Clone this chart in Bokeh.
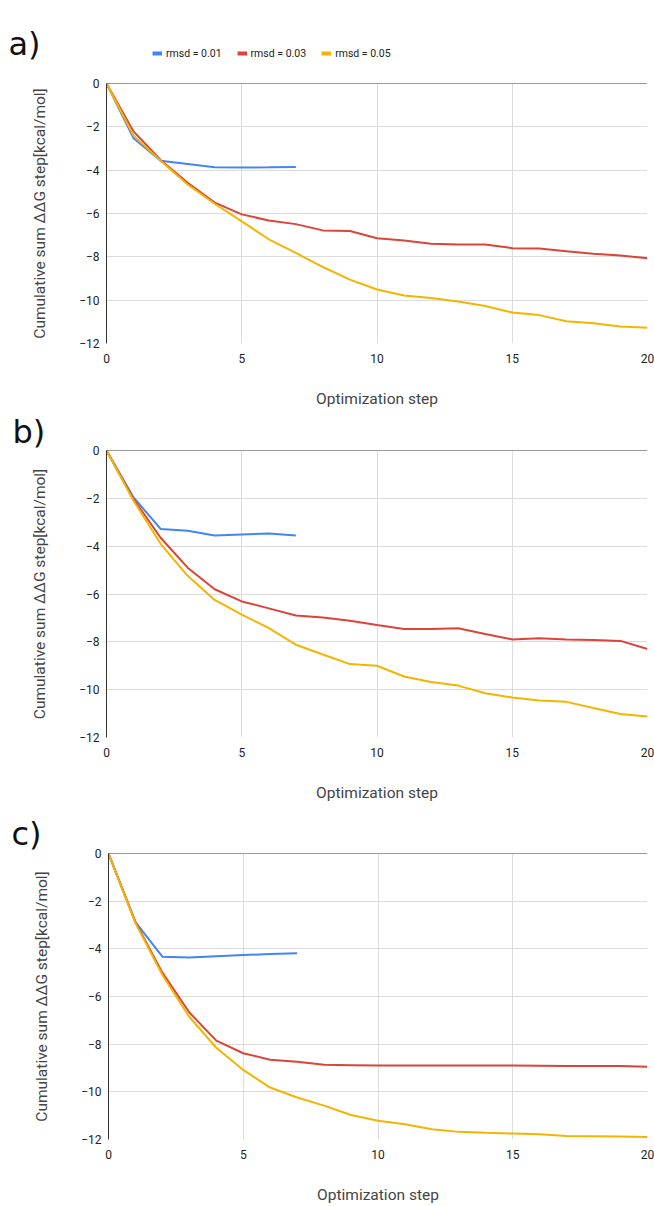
from bokeh.plotting import figure
from bokeh.layouts import column
from bokeh.models import FixedTicker, Span, Legend, LegendItem, Label
from bokeh.embed import file_html
from bokeh.resources import INLINE

# ---------------- data ----------------
steps_long = list(range(21))
steps_short = list(range(8))

series_names = ["rmsd = 0.01", "rmsd = 0.03", "rmsd = 0.05"]
series_colors = ["#4285F4", "#DB4437", "#F4B400"]

a_blue = [0, -2.53, -3.56, -3.71, -3.87, -3.88, -3.87, -3.85]
a_red = [0, -2.21, -3.53, -4.58, -5.50, -6.04, -6.32, -6.49, -6.78, -6.81, -7.14,
         -7.25, -7.40, -7.43, -7.43, -7.60, -7.62, -7.74, -7.86, -7.94, -8.06]
a_yellow = [0, -2.41, -3.56, -4.66, -5.55, -6.36, -7.19, -7.82, -8.47, -9.05, -9.51,
            -9.78, -9.90, -10.06, -10.27, -10.57, -10.69, -10.97, -11.06, -11.21, -11.27]

b_blue = [0, -1.96, -3.28, -3.36, -3.55, -3.51, -3.47, -3.55]
b_red = [0, -2.03, -3.65, -4.90, -5.80, -6.31, -6.60, -6.90, -6.98, -7.12, -7.30,
         -7.46, -7.46, -7.43, -7.67, -7.90, -7.85, -7.90, -7.92, -7.96, -8.30]
b_yellow = [0, -2.10, -3.90, -5.24, -6.25, -6.86, -7.43, -8.12, -8.53, -8.93, -9.00,
            -9.45, -9.68, -9.83, -10.15, -10.33, -10.45, -10.51, -10.77, -11.02, -11.12]

c_blue = [0, -2.88, -4.33, -4.36, -4.31, -4.26, -4.22, -4.19]
c_red = [0, -2.88, -5.00, -6.67, -7.85, -8.38, -8.65, -8.74, -8.86, -8.88, -8.90,
         -8.90, -8.89, -8.90, -8.90, -8.90, -8.91, -8.92, -8.92, -8.92, -8.95]
c_yellow = [0, -2.92, -5.10, -6.86, -8.15, -9.08, -9.82, -10.24, -10.58, -10.97, -11.21,
            -11.36, -11.57, -11.68, -11.72, -11.75, -11.78, -11.85, -11.86, -11.87, -11.89]

x_ticks = [0, 5, 10, 15, 20]
y_ticks = [0, -2, -4, -6, -8, -10, -12]
panel_labels = ["a)", "b)", "c)"]
x_title = "Optimization step"
y_title = "Cumulative sum \u0394\u0394G step[kcal/mol]"

FONT = "Roboto"
LETTER_FONT = "DejaVu Sans"


def no_align(p):
    if "frame_align" in p.properties():
        p.frame_align = False


def make_panel(label, blue, red, yellow, height, top, bottom, left, xlabel_standoff,
               title_offset, title_standoff):
    p = figure(width=654, height=height, x_range=(0, 20), y_range=(-12, 0),
               output_backend="svg", toolbar_location=None,
               min_border_top=top, min_border_bottom=bottom,
               min_border_left=left, min_border_right=7)
    no_align(p)
    p.outline_line_color = None
    p.background_fill_color = "white"

    if label:
        p.title.text = label
        p.title.text_font = LETTER_FONT
        p.title.text_font_size = "32px"
        p.title.text_font_style = "normal"
        p.title.text_color = "#111111"
        p.title.align = "left"
        p.title.offset = title_offset
        p.title.standoff = title_standoff

    for ax in (p.xaxis[0], p.yaxis[0]):
        ax.major_tick_line_color = None
        ax.minor_tick_line_color = None
        ax.major_tick_out = 0
        ax.major_tick_in = 0
        ax.major_label_text_font = FONT
        ax.major_label_text_font_size = "12px"
        ax.major_label_text_color = "#222222"
        ax.axis_label_text_font = FONT
        ax.axis_label_text_font_size = "15.5px"
        ax.axis_label_text_font_style = "normal"
        ax.axis_label_text_color = "#444444"

    p.xaxis.ticker = FixedTicker(ticks=x_ticks)
    p.yaxis.ticker = FixedTicker(ticks=y_ticks)
    p.xaxis.axis_line_color = None
    p.yaxis.axis_line_color = "#333333"
    p.yaxis.axis_line_width = 1
    p.xaxis.major_label_standoff = 10
    p.yaxis.major_label_standoff = 7
    p.xaxis.axis_label = x_title
    p.yaxis.axis_label = y_title
    p.xaxis.axis_label_standoff = xlabel_standoff
    p.yaxis.axis_label_standoff = 27

    p.xgrid.ticker = FixedTicker(ticks=x_ticks)
    p.ygrid.ticker = FixedTicker(ticks=y_ticks)
    p.grid.grid_line_color = "#dcdcdc"
    p.grid.grid_line_width = 1

    p.line(steps_short, blue, line_color=series_colors[0], line_width=2)
    p.line(steps_long, red, line_color=series_colors[1], line_width=2)
    p.line(steps_long, yellow, line_color=series_colors[2], line_width=2)

    p.add_layout(Span(location=0, dimension="width", line_color="#333333", line_width=1))
    return p


# header strip for panel a: panel letter + legend (series drawn outside its visible range,
# only their legend swatches show)
hdr = figure(width=654, height=70, x_range=(0, 1), y_range=(1, 2),
             output_backend="svg", toolbar_location=None,
             x_axis_location=None, y_axis_location=None,
             min_border_left=0, min_border_right=0,
             min_border_top=0, min_border_bottom=0)
no_align(hdr)
hdr.outline_line_color = None
hdr.grid.visible = False
swatches = [hdr.line(steps_short, a_blue, line_color=series_colors[0], line_width=4),
            hdr.line(steps_long, a_red, line_color=series_colors[1], line_width=4),
            hdr.line(steps_long, a_yellow, line_color=series_colors[2], line_width=4)]
hdr.add_layout(Label(x=8, y=27, x_units="screen", y_units="screen", text=panel_labels[0],
                     text_font=LETTER_FONT, text_font_size="32px", text_color="#111111",
                     text_baseline="alphabetic"))
legend = Legend(items=[LegendItem(label=n, renderers=[r]) for n, r in zip(series_names, swatches)],
                orientation="horizontal", location=(152, 10),
                padding=0, margin=0, spacing=15, label_standoff=4,
                glyph_width=10, glyph_height=14, label_height=14,
                label_text_font=FONT, label_text_font_size="10.5px",
                label_text_color="#222222",
                border_line_color=None, background_fill_alpha=0)
hdr.add_layout(legend)

pa = make_panel(None, a_blue, a_red, a_yellow, height=340, top=13, bottom=66,
                left=106, xlabel_standoff=24, title_offset=0, title_standoff=0)
pb = make_panel(panel_labels[1], b_blue, b_red, b_yellow, height=400, top=38, bottom=73,
                left=106, xlabel_standoff=24, title_offset=-94, title_standoff=0)
pc = make_panel(panel_labels[2], c_blue, c_red, c_yellow, height=396, top=43, bottom=65,
                left=108, xlabel_standoff=24, title_offset=-97, title_standoff=2)

layout = column(hdr, pa, pb, pc, spacing=0)
open("out.html", "w").write(file_html(layout, INLINE))
